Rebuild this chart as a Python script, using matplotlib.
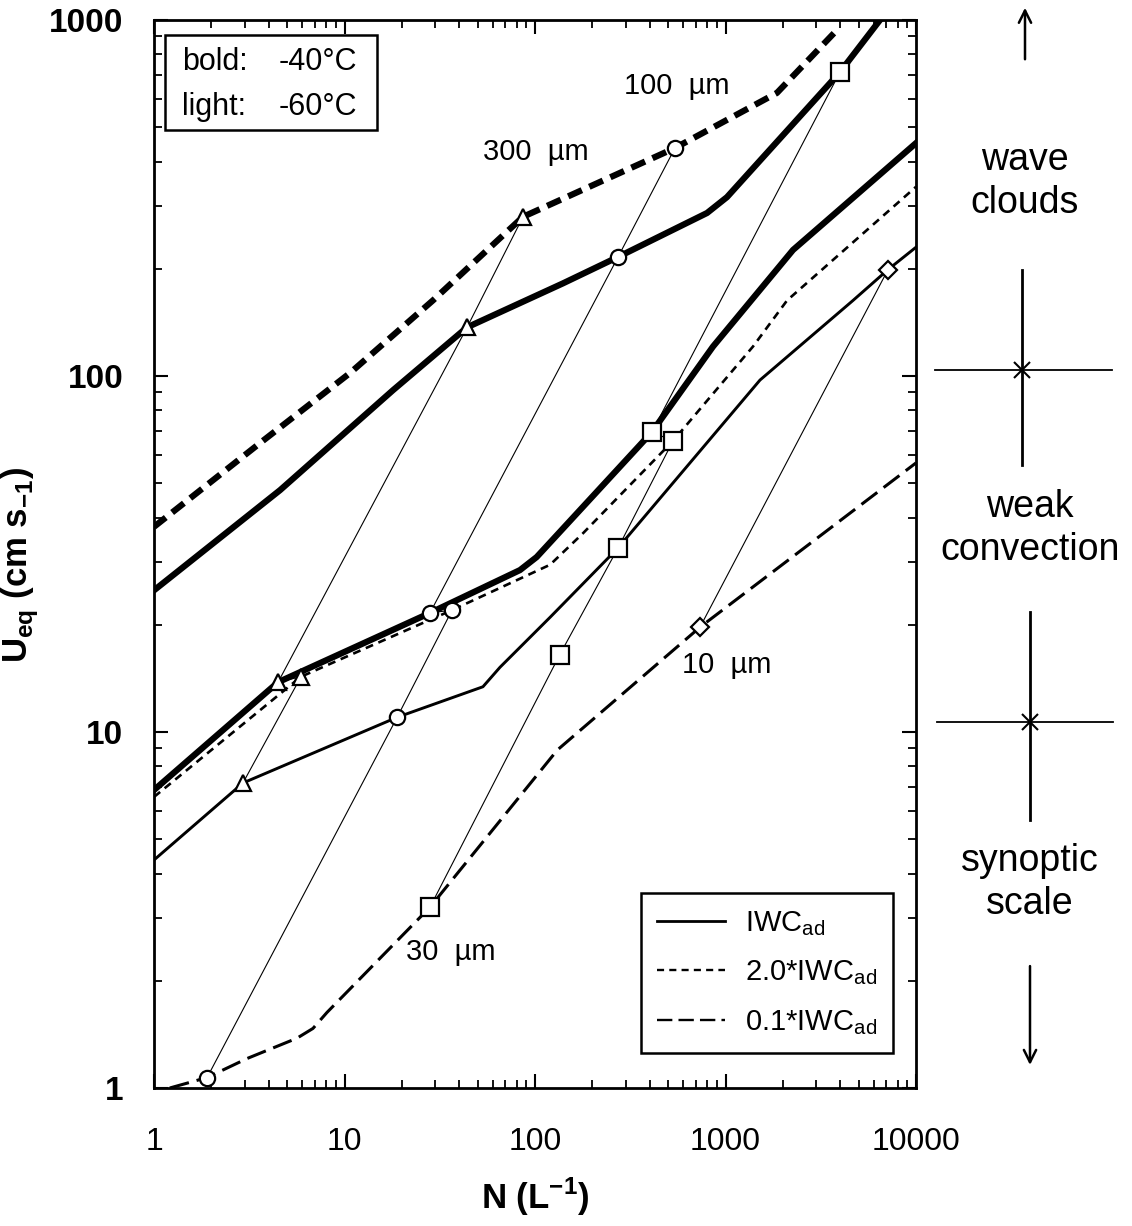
import numpy as np
import matplotlib
matplotlib.use("Agg")
import matplotlib.pyplot as plt
from matplotlib.lines import Line2D
from matplotlib.patches import Rectangle

plt.rcParams['font.family'] = ['Liberation Sans', 'DejaVu Sans']
plt.rcParams['mathtext.fontset'] = 'custom'
plt.rcParams['mathtext.rm'] = 'Liberation Sans'
plt.rcParams['mathtext.bf'] = 'Liberation Sans:bold'

## curves: N (L-1) vs Ueq (cm s-1)
# bold = -40C, light = -60C
n_b20 = [1, 3.6, 10.7, 29.1, 86.5, 543, 1862, 3757]
u_b20 = [37.7, 64.8, 102, 163, 280, 437, 624, 925]

n_b10 = [1, 4.59, 18.0, 44.0, 140, 273, 800, 1018, 3990, 6470]
u_b10 = [25.0, 47.8, 91.3, 137, 182, 216, 287, 318, 714, 1000]

n_b10_low = [1, 4.48, 28.1, 83.4, 102, 411, 860, 2262, 10000]
u_b10_low = [6.87, 13.8, 21.6, 28.5, 31.0, 69.6, 121, 226, 451]

n_l20 = [1, 5.91, 36.7, 120, 179, 530, 1394, 2104, 10000]
u_l20 = [6.57, 14.3, 22.0, 29.5, 36.2, 65.7, 121, 163, 340]

n_l10 = [1, 2.93, 18.9, 53.3, 65.5, 120, 273, 1517, 4670, 7130, 10000]
u_l10 = [4.37, 7.19, 11.0, 13.4, 15.2, 21.0, 32.9, 97.4, 163, 199, 230]

n_l01 = [1.21, 1.90, 3.08, 5.63, 6.83, 8.09, 28.1, 131, 735, 2711, 10000]
u_l01 = [1.0, 1.07, 1.21, 1.38, 1.47, 1.63, 3.22, 8.90, 19.7, 33.5, 57.0]

## iso-size lines (crystal size)
n_300 = [86.5, 44.0, 4.48, 5.91, 2.93]
u_300 = [280, 137, 13.8, 14.3, 7.19]
n_100 = [543, 273, 28.1, 36.7, 18.9, 1.90]
u_100 = [437, 216, 21.6, 22.0, 11.0, 1.07]
n_30 = [3990, 411, 530, 273, 135, 28.1]
u_30 = [714, 69.6, 65.7, 32.9, 16.5, 3.22]
n_10 = [7130, 735]
u_10 = [199, 19.7]

size_labels = ['300  \u00b5m', '100  \u00b5m', '30  \u00b5m', '10  \u00b5m']
size_label_n = [101, 556, 36.2, 1018]
size_label_u = [426, 653, 2.41, 15.4]

x_ticks = [1, 10, 100, 1000, 10000]
y_ticks = [1, 10, 100, 1000]

regime_labels = ['wave\nclouds', 'weak\nconvection', 'synoptic\nscale']
regime_label_u = [351, 37.4, 3.79]
regime_bounds = [104, 10.7]

W, H = 1132, 1226
fig = plt.figure(figsize=(W/100, H/100), dpi=100)
ax = fig.add_axes([154/W, 1-1088/H, 762/W, 1068/H])
ax.set_xscale('log')
ax.set_yscale('log')
ax.set_xlim(1, 10000)
ax.set_ylim(1, 1000)

## main curves
ax.plot(n_b20, u_b20, color='k', lw=4.5, dashes=(2.4, 1.3), zorder=3)
ax.plot(n_b10, u_b10, color='k', lw=4.5, zorder=3)
ax.plot(n_b10_low, u_b10_low, color='k', lw=4.5, zorder=3)
ax.plot(n_l20, u_l20, color='k', lw=1.9, dashes=(3.0, 2.2), zorder=3)
ax.plot(n_l10, u_l10, color='k', lw=2.1, zorder=3)
ax.plot(n_l01, u_l01, color='k', lw=2.2, dashes=(6.5, 2.6), zorder=3)

## iso-size lines with markers
mk = dict(color='k', lw=0.8, mfc='white', mec='k', mew=1.6, zorder=4)
ax.plot(n_300, u_300, marker='^', ms=11.5, **mk)
ax.plot(n_100, u_100, marker='o', ms=11, **mk)
ax.plot(n_30, u_30, marker='s', ms=13, **mk)
ax.plot(n_10, u_10, marker='D', ms=9, **mk)

for lab, xn, yu in zip(size_labels, size_label_n, size_label_u):
    ax.text(xn, yu, lab, fontsize=21, ha='center', va='center', zorder=5)

## axes styling
for sp in ax.spines.values():
    sp.set_linewidth(2.0)
ax.tick_params(which='both', direction='in', top=True, right=True)
ax.tick_params(which='major', length=10, width=1.5)
ax.tick_params(which='minor', length=6, width=1.3)
ax.set_xticks(x_ticks)
ax.set_xticklabels([str(v) for v in x_ticks], fontsize=23)
ax.set_yticks(y_ticks)
ax.set_yticklabels([str(v) for v in y_ticks], fontsize=24, fontweight='bold')
ax.tick_params(axis='x', which='major', pad=28)
ax.tick_params(axis='y', which='major', pad=22)

ax.set_xlabel(r'N (L$^{\mathbf{-1}}$)', fontsize=25, fontweight='bold')
ax.xaxis.set_label_coords(0.5, -0.082)
ax.set_ylabel(r'U$_{\mathbf{eq}}$ (cm s$_{\mathbf{-1}}$)', fontsize=25, fontweight='bold')
ax.yaxis.set_label_coords(-0.148, 0.49)

## temperature box
ax.add_patch(Rectangle((0.014, 0.897), 0.278, 0.089, transform=ax.transAxes,
                       fill=True, fc='white', ec='k', lw=1.8, zorder=6))
ax.text(0.037, 0.961, 'bold:', transform=ax.transAxes, fontsize=22, va='center', zorder=7)
ax.text(0.163, 0.961, '-40\u00b0C', transform=ax.transAxes, fontsize=22, va='center', zorder=7)
ax.text(0.037, 0.919, 'light:', transform=ax.transAxes, fontsize=22, va='center', zorder=7)
ax.text(0.163, 0.919, '-60\u00b0C', transform=ax.transAxes, fontsize=22, va='center', zorder=7)

## legend
handles = [Line2D([], [], color='k', lw=2.0),
           Line2D([], [], color='k', lw=1.7, dashes=(3.0, 2.2)),
           Line2D([], [], color='k', lw=1.7, dashes=(6.5, 2.6))]
leg = ax.legend(handles, [r'IWC$_{\rm ad}$', r'2.0*IWC$_{\rm ad}$', r'0.1*IWC$_{\rm ad}$'],
                loc='lower right', bbox_to_anchor=(0.970, 0.033), borderaxespad=0,
                fontsize=21, handlelength=2.3, handletextpad=0.7, labelspacing=0.7,
                fancybox=False, framealpha=1, edgecolor='k', borderpad=0.55)
leg.get_frame().set_linewidth(1.8)

## regime annotations on the right
ax2 = fig.add_axes([916/W, 1-1088/H, 216/W, 1068/H])
ax2.set_yscale('log')
ax2.set_ylim(1, 1000)
ax2.set_xlim(0, 216)
ax2.axis('off')

ax2.text(109, regime_label_u[0], regime_labels[0], fontsize=27, ha='center', va='center', linespacing=1.25)
ax2.text(114, regime_label_u[1], regime_labels[1], fontsize=27, ha='center', va='center', linespacing=1.25)
ax2.text(114, regime_label_u[2], regime_labels[2], fontsize=27, ha='center', va='center', linespacing=1.25)

ax2.annotate('', xy=(109, 1102), xytext=(109, 762), annotation_clip=False,
             arrowprops=dict(arrowstyle='->', lw=1.8, color='k', mutation_scale=22))
ax2.annotate('', xy=(114, 1.14), xytext=(114, 2.24), annotation_clip=False,
             arrowprops=dict(arrowstyle='->', lw=1.8, color='k', mutation_scale=22))

ax2.plot([106, 106], [199, regime_bounds[0]], color='k', lw=2.0, clip_on=False)
ax2.plot([106, 106], [regime_bounds[0], 56.2], color='k', lw=2.0, clip_on=False)
ax2.plot([19, 196], [regime_bounds[0]] * 2, color='k', lw=1.3, clip_on=False)
ax2.plot([106], [regime_bounds[0]], marker='x', ms=12, mew=1.5, color='k', clip_on=False)

ax2.plot([114, 114], [21.7, regime_bounds[1]], color='k', lw=2.0, clip_on=False)
ax2.plot([114, 114], [regime_bounds[1], 5.66], color='k', lw=2.0, clip_on=False)
ax2.plot([21, 197], [regime_bounds[1]] * 2, color='k', lw=1.3, clip_on=False)
ax2.plot([114], [regime_bounds[1]], marker='x', ms=12, mew=1.5, color='k', clip_on=False)

fig.savefig('out.png', dpi=100)
